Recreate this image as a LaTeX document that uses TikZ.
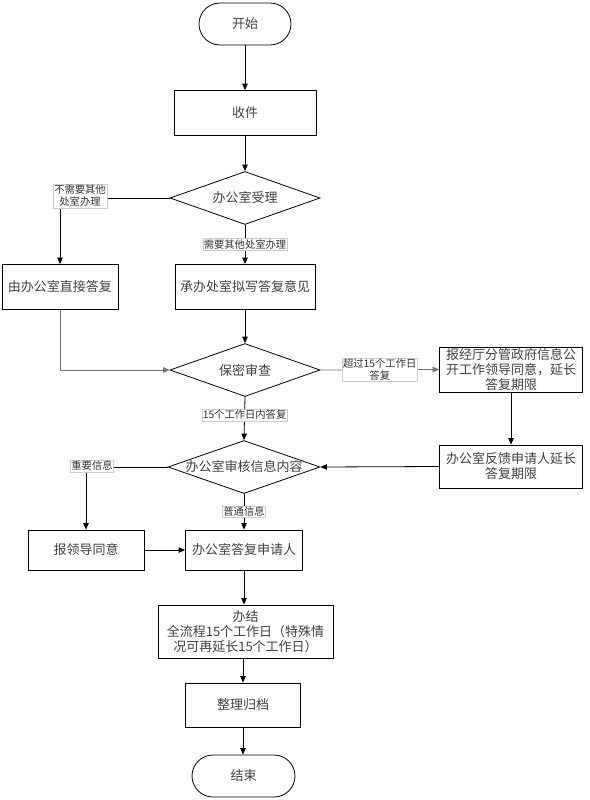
\documentclass[tikz,border=0pt]{standalone}
\usepackage{fontspec}
\setmainfont{Noto Sans CJK SC}
\usetikzlibrary{arrows.meta,shapes.geometric}
\begin{document}
\begin{tikzpicture}[x=1pt,y=-1pt,
  txt/.style={font=\fontsize{13}{15}\selectfont, text=black!75, align=center},
  box/.style={txt, draw=black, line width=0.8pt, inner sep=0pt},
  term/.style={box, rounded corners=21pt, minimum width=92pt, minimum height=42pt},
  dia/.style={draw=black, line width=0.8pt, diamond, inner sep=0pt, minimum width=150pt, minimum height=53pt},
  lbl/.style={font=\fontsize{10.3}{12}\selectfont, text=black!80, align=center, fill=white, draw=black!20, line width=0.4pt, inner sep=1pt},
  arr/.style={draw=black, line width=0.8pt, -{Triangle[length=6.5pt,width=5.5pt]}},
  garr/.style={arr, draw=black!55}
]
\useasboundingbox (0,0) rectangle (589,800);

% nodes
\node[term] (start) at (245,24) {开始};
\node[box, minimum width=142pt, minimum height=45pt] (recv) at (245,113) {收件};
\node[dia] (d1) at (245,198) {};
\node[txt] (d1t) at (d1) {办公室受理};
\node[box, minimum width=116pt, minimum height=45pt] (direct) at (60,287) {由办公室直接答复};
\node[box, minimum width=140pt, minimum height=45pt] (draft) at (245,287) {承办处室拟写答复意见};
\node[dia] (d2) at (245,370) {};
\node[txt] (d2t) at (d2) {保密审查};
\node[box, minimum width=143pt, minimum height=45pt] (ext) at (511,369.5) {报经厅分管政府信息公\\开工作领导同意，延长\\答复期限};
\node[box, minimum width=143pt, minimum height=43pt] (fb) at (511,466.5) {办公室反馈申请人延长\\答复期限};
\node[dia, minimum width=152pt] (d3) at (244,467) {};
\node[txt] (d3t) at (d3) {办公室审核信息内容};
\node[box, minimum width=116pt, minimum height=40pt] (lead) at (86,550) {报领导同意};
\node[box, minimum width=117pt, minimum height=40pt] (reply) at (244,550) {办公室答复申请人};
\node[box, minimum width=175pt, minimum height=53pt] (done) at (245.5,631.5) {办结\\全流程15个工作日（特殊情\\况可再延长15个工作日）};
\node[box, minimum width=115pt, minimum height=44pt] (arch) at (243,705) {整理归档};
\node[term, minimum width=103pt] (end) at (243.5,776) {结束};

% connectors
\draw[arr] (start) -- (recv);
\draw[arr] (recv) -- (d1.north);
\draw[arr] (d1.west) -| (direct.north);
\node[lbl] (l1) at (80,196) {不需要其他\\处室办理};
\draw[arr] (d1.south) -- node[lbl] (l2) {需要其他处室办理} (draft.north);
\draw[garr] (direct.south) |- (d2.west);
\draw[arr] (draft.south) -- (d2.north);
\draw[garr] (d2.east) -- node[lbl] (l3) {超过15个工作日\\答复} (ext.west);
\draw[arr] (d2.south) -- node[lbl, pos=0.42] (l4) {15个工作日内答复} (d3.north);
\draw[arr] (ext) -- (fb);
\draw[arr] (fb.west) -- (d3.east);
\draw[arr] (d3.west) -| (lead.north);
\node[lbl] (l5) at (92,466) {重要信息};
\draw[arr] (d3.south) -- node[lbl] (l6) {普通信息} (reply.north);
\draw[arr] (lead) -- (reply);
\draw[arr] (reply) -- (done.north -| reply);
\draw[arr] (done.south -| arch) -- (arch);
\draw[arr] (arch) -- (end.north -| arch);
\end{tikzpicture}
\end{document}
